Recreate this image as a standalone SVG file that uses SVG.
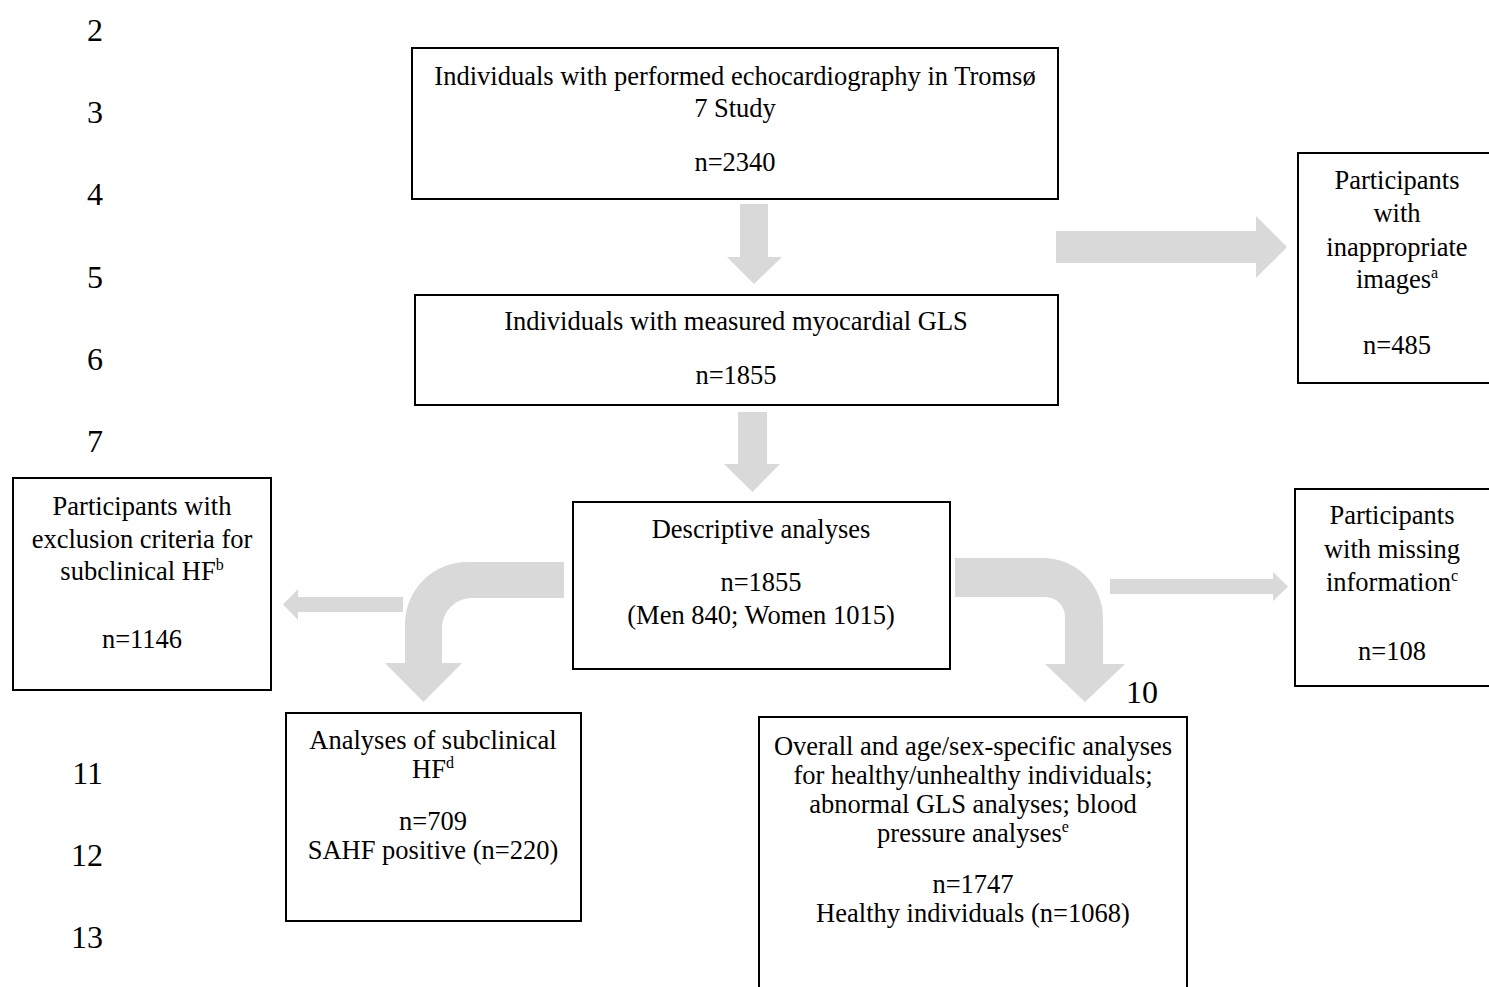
<svg xmlns="http://www.w3.org/2000/svg" width="1489" height="987" viewBox="0 0 1489 987">
<style>
.box{fill:#fff;stroke:#000;stroke-width:2}
.arr{fill:#d9d9d9;stroke:none}
text{font-family:"Liberation Serif","Times New Roman",serif;fill:#000}
.t{font-size:26.5px;text-anchor:middle}
.ln{font-size:32px;text-anchor:end}
.sup{font-size:16px}
</style>
<rect width="1489" height="987" fill="#fff"/>
<g id="line-numbers">
<text class="ln" x="103" y="41">2</text>
<text class="ln" x="103" y="123">3</text>
<text class="ln" x="103" y="205">4</text>
<text class="ln" x="103" y="288">5</text>
<text class="ln" x="103" y="370">6</text>
<text class="ln" x="103" y="452">7</text>
<text class="ln" x="1158" y="703">10</text>
<text class="ln" x="103" y="784">11</text>
<text class="ln" x="103" y="866">12</text>
<text class="ln" x="103" y="948">13</text>
</g>
<g id="connectors">
<polygon class="arr" points="740,204 768,204 768,257 782,257 754,284 727,257 740,257"/>
<polygon class="arr" points="738,412 767,412 767,464 780,464 752.5,492 724,464 738,464"/>
<polygon class="arr" points="1056,231 1256,231 1256,216 1287,247 1256,278 1256,263 1056,263"/>
<polygon class="arr" points="403,597 298,597 298,589 283,604.5 298,620 298,612 403,612"/>
<polygon class="arr" points="1110,579 1273,579 1273,572 1288,586.5 1273,601 1273,594 1110,594"/>
<path class="arr" d="M564,562 L467,562 A62,62 0 0 0 405,624 L405,663 L385,663 L423.5,702 L462,663 L442,663 L442,628 A30,30 0 0 1 472,598 L564,598 Z"/>
<path class="arr" d="M955,558 L1043,558 A60,60 0 0 1 1103,618 L1103,664 L1125,664 L1085,702 L1045,664 L1065,664 L1065,617 A20,20 0 0 0 1045,597 L955,597 Z"/>
</g>
<g id="node-echo">
<rect class="box" x="412" y="48" width="646" height="151"/>
<text class="t" x="735" y="85">Individuals with performed echocardiography in Tromsø</text>
<text class="t" x="735" y="117">7 Study</text>
<text class="t" x="735" y="171">n=2340</text>
</g>
<g id="node-gls">
<rect class="box" x="415" y="295" width="643" height="110"/>
<text class="t" x="736" y="330">Individuals with measured myocardial GLS</text>
<text class="t" x="736" y="384">n=1855</text>
</g>
<g id="node-inappropriate">
<rect class="box" x="1298" y="153" width="194" height="230"/>
<text class="t" x="1397" y="189">Participants</text>
<text class="t" x="1397" y="222">with</text>
<text class="t" x="1397" y="256">inappropriate</text>
<text class="t" x="1397" y="288">images<tspan class="sup" dy="-10">a</tspan></text>
<text class="t" x="1397" y="354">n=485</text>
</g>
<g id="node-descriptive">
<rect class="box" x="573" y="502" width="377" height="167"/>
<text class="t" x="761" y="538">Descriptive analyses</text>
<text class="t" x="761" y="591">n=1855</text>
<text class="t" x="761" y="624">(Men 840; Women 1015)</text>
</g>
<g id="node-exclusion">
<rect class="box" x="13" y="478" width="258" height="212"/>
<text class="t" x="142" y="515">Participants with</text>
<text class="t" x="142" y="548">exclusion criteria for</text>
<text class="t" x="142" y="580">subclinical HF<tspan class="sup" dy="-10">b</tspan></text>
<text class="t" x="142" y="648">n=1146</text>
</g>
<g id="node-missing">
<rect class="box" x="1295" y="489" width="197" height="197"/>
<text class="t" x="1392" y="524">Participants</text>
<text class="t" x="1392" y="558">with missing</text>
<text class="t" x="1392" y="591">information<tspan class="sup" dy="-10">c</tspan></text>
<text class="t" x="1392" y="660">n=108</text>
</g>
<g id="node-subclinical">
<rect class="box" x="286" y="713" width="295" height="208"/>
<text class="t" x="433" y="749">Analyses of subclinical</text>
<text class="t" x="433" y="778">HF<tspan class="sup" dy="-10">d</tspan></text>
<text class="t" x="433" y="830">n=709</text>
<text class="t" x="433" y="859">SAHF positive (n=220)</text>
</g>
<g id="node-overall">
<rect class="box" x="759" y="717" width="428" height="280"/>
<text class="t" x="973" y="755">Overall and age/sex-specific analyses</text>
<text class="t" x="973" y="784">for healthy/unhealthy individuals;</text>
<text class="t" x="973" y="813">abnormal GLS analyses; blood</text>
<text class="t" x="973" y="842">pressure analyses<tspan class="sup" dy="-10">e</tspan></text>
<text class="t" x="973" y="893">n=1747</text>
<text class="t" x="973" y="922">Healthy individuals (n=1068)</text>
</g>
</svg>
